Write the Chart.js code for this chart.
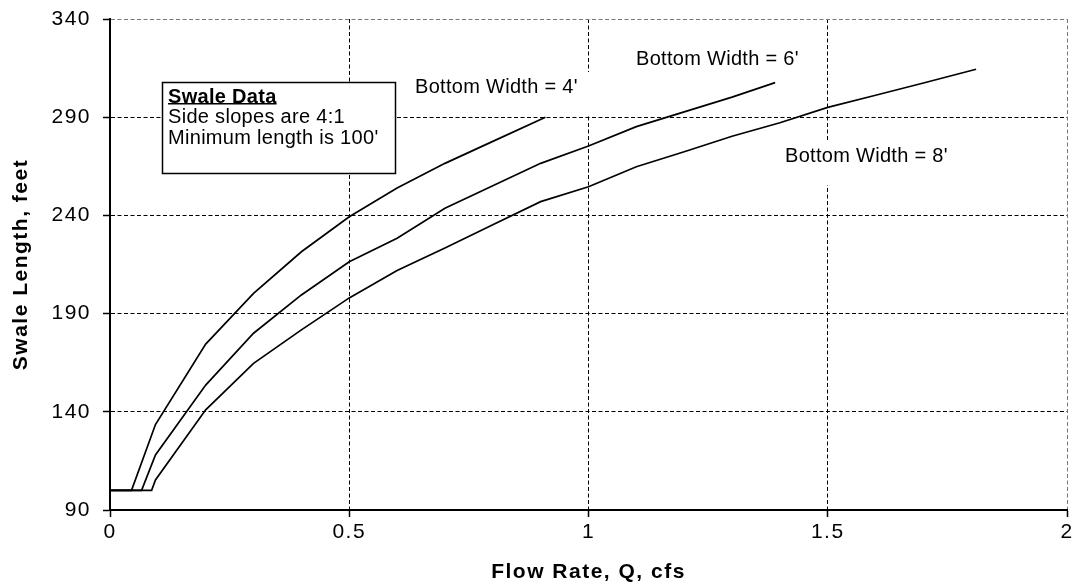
<!DOCTYPE html>
<html><head><meta charset="utf-8">
<script src="https://cdn.jsdelivr.net/npm/chart.js@4.4.1/dist/chart.umd.min.js"></script>
<style>html,body{margin:0;padding:0;background:#fff;}#wrap{width:1073px;height:587px;position:relative;}</style>
</head><body><div id="wrap"><canvas id="c"></canvas></div>
<script>
// Flow rate Q (cfs) and swale length (feet) for each bottom width
const q4   = [0, 0.045, 0.095, 0.2, 0.3, 0.4, 0.5, 0.6, 0.7, 0.8, 0.91];
const len4 = [100, 100, 133.5, 174.5, 200.3, 221.5, 239.3, 254, 266.5, 277.7, 290];
const q6   = [0, 0.066, 0.095, 0.2, 0.3, 0.4, 0.5, 0.6, 0.7, 0.8, 0.9, 1.0, 1.1, 1.2, 1.3, 1.39];
const len6 = [100, 100, 118, 153.6, 180, 199.5, 216.4, 228.4, 243.6, 255.1, 266.5, 275.3, 285.2, 292.7, 300.2, 307.6];
const q8   = [0, 0.087, 0.095, 0.2, 0.3, 0.4, 0.5, 0.6, 0.7, 0.8, 0.9, 1.0, 1.1, 1.2, 1.3, 1.4, 1.5, 1.6, 1.7, 1.81];
const len8 = [100, 100, 105.3, 141, 164.7, 181.7, 198, 211.9, 223.4, 235.2, 247, 254.6, 264.8, 272.4, 280.3, 287.2, 295, 301.2, 307.4, 314.4];
const seriesNames = ["Bottom Width = 4'", "Bottom Width = 6'", "Bottom Width = 8'"];
const xTicks = [0, 0.5, 1, 1.5, 2];
const yTicks = [90, 140, 190, 240, 290, 340];
const xTitle = "Flow Rate, Q, cfs";
const yTitle = "Swale Length, feet";
const boxTitle = "Swale Data";
const boxLines = ["Side slopes are 4:1", "Minimum length is 100'"];

const FONT = "'Liberation Sans', Arial, Helvetica, sans-serif";
Chart.defaults.font.family = FONT;
Chart.defaults.color = '#000';

function pts(xs, ys){ return xs.map((x,i)=>({x:x, y:ys[i]})); }

const annot = {
  id: 'annot',
  beforeDraw(chart){ chart.ctx.letterSpacing = '1.5px'; },
  beforeDatasetsDraw(chart){
    const ctx = chart.ctx;
    ctx.save();
    ctx.letterSpacing = '0.3px';
    ctx.fillStyle = '#fff';
    ctx.fillRect(405, 72, 193, 44);
    ctx.fillRect(775, 140, 185, 45);
    ctx.fillRect(162, 82, 234, 92);
    ctx.strokeStyle = '#000';
    ctx.lineWidth = 1.5;
    ctx.strokeRect(162.5, 82.5, 233, 91);
    ctx.fillStyle = '#000';
    ctx.textAlign = 'left';
    ctx.textBaseline = 'middle';
    ctx.font = 'bold 20px ' + FONT;
    ctx.fillText(boxTitle, 168, 97);
    const w = ctx.measureText(boxTitle).width;
    ctx.fillRect(168, 103, w, 1.5);
    ctx.font = '20px ' + FONT;
    ctx.fillText(boxLines[0], 168, 117.5);
    ctx.fillText(boxLines[1], 168, 138.5);
    ctx.fillText(seriesNames[0], 415, 87);
    ctx.fillText(seriesNames[1], 636, 59);
    ctx.fillText(seriesNames[2], 785, 156);
    ctx.restore();
  }
};

const lineStyle = {borderColor:'#000', borderWidth:1.7, pointRadius:0, tension:0, fill:false};

new Chart(document.getElementById('c'), {
  type: 'line',
  data: {
    datasets: [
      Object.assign({label: seriesNames[0], data: pts(q4, len4)}, lineStyle),
      Object.assign({label: seriesNames[1], data: pts(q6, len6)}, lineStyle),
      Object.assign({label: seriesNames[2], data: pts(q8, len8)}, lineStyle)
    ]
  },
  options: {
    responsive: true,
    maintainAspectRatio: false,
    animation: false,
    devicePixelRatio: 1,
    layout: {padding: {top: 19, right: 6, left: 0, bottom: 0}},
    plugins: {legend: {display: false}, tooltip: {enabled: false}},
    scales: {
      x: {
        type: 'linear', min: 0, max: 2,
        afterBuildTicks: s => { s.ticks = xTicks.map(v => ({value: v})); },
        afterFit: s => { s.height = 77; s.paddingLeft = 0; s.paddingRight = 0; },
        ticks: {font: {size: 21}, padding: 3, color: '#000', maxRotation: 0, callback: v => String(v)},
        grid: {color: c => (c.tick && c.tick.value === 2) ? '#777' : '#000', lineWidth: 1, tickLength: 7, tickColor: '#000', tickWidth: 1.5},
        border: {display: true, color: '#000', width: 2, dash: [4, 2.5]},
        title: {display: true, text: xTitle, font: {size: 21, weight: 'bold'}, padding: {top: 0, bottom: 2}}
      },
      y: {
        type: 'linear', min: 90, max: 340,
        afterBuildTicks: s => { s.ticks = yTicks.map(v => ({value: v})); },
        afterFit: s => { s.width = 110; s.paddingTop = 0; s.paddingBottom = 0; },
        ticks: {font: {size: 21}, padding: 12, color: '#000', callback: v => String(v)},
        grid: {color: c => (c.tick && c.tick.value === 340) ? '#777' : '#000', lineWidth: 1, tickLength: 7, tickColor: '#000', tickWidth: 1.5},
        border: {display: true, color: '#000', width: 2, dash: [4, 2.5]},
        title: {display: true, text: yTitle, font: {size: 21, weight: 'bold'}, padding: {top: 9, bottom: 0}}
      }
    }
  },
  plugins: [annot]
});
</script>
</body></html>
